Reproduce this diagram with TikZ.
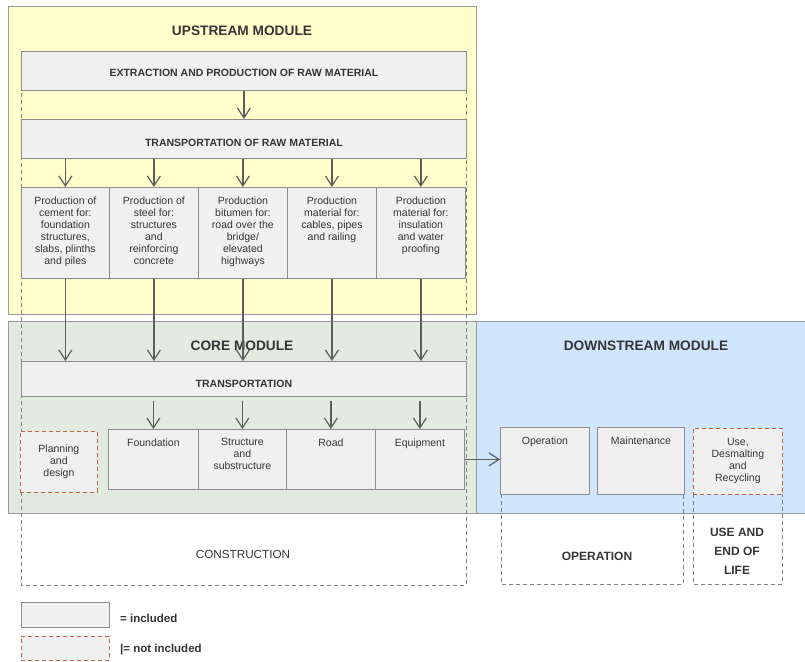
\documentclass[tikz,border=0pt]{standalone}
\usepackage{fontspec}
\setmainfont{Liberation Sans}
\usetikzlibrary{arrows.meta}
\definecolor{upfill}{HTML}{FFFFCC}
\definecolor{corefill}{HTML}{E1EBE0}
\definecolor{downfill}{HTML}{D0E6FE}
\definecolor{modline}{HTML}{9A9A9A}
\definecolor{boxfill}{HTML}{F0F0F0}
\definecolor{boxline}{HTML}{8C8C8C}
\definecolor{exred}{HTML}{C4653F}
\definecolor{txt}{HTML}{353535}
\definecolor{arrgray}{HTML}{5E5E5E}
\definecolor{phgray}{HTML}{808080}
\newcommand\topbox[3]{\parbox[t][#2pt][t]{#1pt}{\centering\vspace*{9pt}#3}}
\tikzset{
	module/.style={draw=modline, line width=0.8pt},
	incl/.style={draw=boxline, fill=boxfill, line width=0.8pt, inner sep=0pt, text=txt,
		font=\fontsize{10.5}{12}\selectfont},
	excl/.style={incl, draw=exred, dash pattern=on 4pt off 3pt, align=center},
	barbox/.style={incl, anchor=north west, minimum width=445pt,
		font=\bfseries\fontsize{10.5}{12}\selectfont},
	flow/.style={draw=arrgray, line width=1.2pt, -{Straight Barb[length=10pt,width=13pt]}},
	phase/.style={draw=phgray, line width=0.8pt, dash pattern=on 4pt off 3pt},
	modtitle/.style={text=txt, font=\bfseries\fontsize{13.7}{16}\selectfont},
}

\begin{document}
\begin{tikzpicture}[x=1pt,y=-1pt]
			%%%%% START %%%%%
			\useasboundingbox (0,0) rectangle (805,661);
			
			\draw[module, fill=upfill] (8,6) rectangle (476,314);
			\draw[module, fill=corefill] (8,321) rectangle (476,513);
			\draw[module, fill=downfill] (476,321) rectangle (808,513);
			
			\draw[phase] (21,51) rectangle (466,585);
			\draw[phase] (501,494) -- (501,584) -- (683,584) -- (683,494);
			\draw[phase] (693,494) -- (693,584) -- (782,584) -- (782,494);
			
			\node[modtitle] (tup) at (242,31) {UPSTREAM MODULE};
			\node[modtitle] (tcore) at (242,346) {CORE MODULE};
			\node[modtitle] (tdown) at (646,346) {DOWNSTREAM MODULE};
			
			\node[barbox, text height=25.5pt, text depth=13.5pt] (extr) at (21,51) {EXTRACTION AND PRODUCTION OF RAW MATERIAL};
			\node[barbox, text height=27.5pt, text depth=11.5pt] (trraw) at (21,119) {TRANSPORTATION OF RAW MATERIAL};
			
			\node[incl, anchor=north west] (pcem) at (21,187) {\topbox{88}{91}{Production of\\cement for:\\foundation\\structures,\\slabs, plinths\\and piles}};
			\node[incl, anchor=north west] (pste) at (109,187) {\topbox{89}{91}{Production of\\steel for:\\structures\\and\\reinforcing\\concrete}};
			\node[incl, anchor=north west] (pbit) at (198,187) {\topbox{89}{91}{Production\\bitumen for:\\road over the\\bridge/\\elevated\\highways}};
			\node[incl, anchor=north west] (pcab) at (287,187) {\topbox{89}{91}{Production\\material for:\\cables, pipes\\and railing}};
			\node[incl, anchor=north west] (pins) at (376,187) {\topbox{89}{91}{Production\\material for:\\insulation\\and water\\proofing}};
			
			\node[barbox, text height=26.5pt, text depth=8.5pt] (trcore) at (21,361) {TRANSPORTATION};
			
			\node[excl, anchor=north west, minimum width=77pt, minimum height=61pt] (plan) at (20,431) {Planning\\and\\design};
			\node[incl, anchor=north west] (cfou) at (108,429) {\topbox{90}{60}{Foundation}};
			\node[incl, anchor=north west] (cstr) at (198,429) {\topbox{88}{60}{Structure\\and\\substructure}};
			\node[incl, anchor=north west] (croa) at (286,429) {\topbox{89}{60}{Road}};
			\node[incl, anchor=north west] (cequ) at (375,429) {\topbox{89}{60}{Equipment}};
			
			\node[incl, anchor=north west] (oper) at (500,427) {\topbox{89}{67}{Operation}};
			\node[incl, anchor=north west] (main) at (597,427) {\topbox{87}{67}{Maintenance}};
			\node[excl, anchor=north west, minimum width=89pt, minimum height=66pt] (use) at (693,428) {Use,\\Desmalting\\and\\Recycling};
			
			\draw[flow] (extr) -- (trraw);
			\foreach \p in {pcem,pste,pbit,pcab,pins}
				\draw[flow] (trraw.south -| \p.north) -- (\p.north);
			\foreach \p in {pcem,pste,pbit,pcab,pins}
				\draw[flow] (\p.south) -- (\p.south |- trcore.north);
			\foreach \c in {cfou,cstr,croa,cequ}
				\draw[flow, shorten <=4pt] (trcore.south -| \c.north) -- (\c.north);
			\draw[flow] (cequ.east) -- (cequ.east -| oper.west);
			
			\node[text=txt, font=\fontsize{11.7}{14}\selectfont] (lcon) at (243,554) {CONSTRUCTION};
			\node[text=txt, font=\bfseries\fontsize{12}{14}\selectfont] (lope) at (597,556) {OPERATION};
			\node[text=txt, align=center, font=\bfseries\fontsize{12}{19}\selectfont] (luse) at (737,551) {USE AND\\END OF\\LIFE};
			
			\node[incl, anchor=north west, minimum width=88pt, minimum height=25pt] (keyin) at (21,602) {};
			\node[excl, anchor=north west, minimum width=88pt, minimum height=24pt] (keyex) at (21,636) {};
			\node[anchor=west, inner sep=0pt, text=txt, font=\bfseries\fontsize{11.5}{14}\selectfont] (tin) at (120,618) {= included};
			\node[anchor=west, inner sep=0pt, text=txt, font=\bfseries\fontsize{11.5}{14}\selectfont] (tex) at (120,650) {|= not included};
			
			%%%%% END %%%%%
\end{tikzpicture}
\end{document}
